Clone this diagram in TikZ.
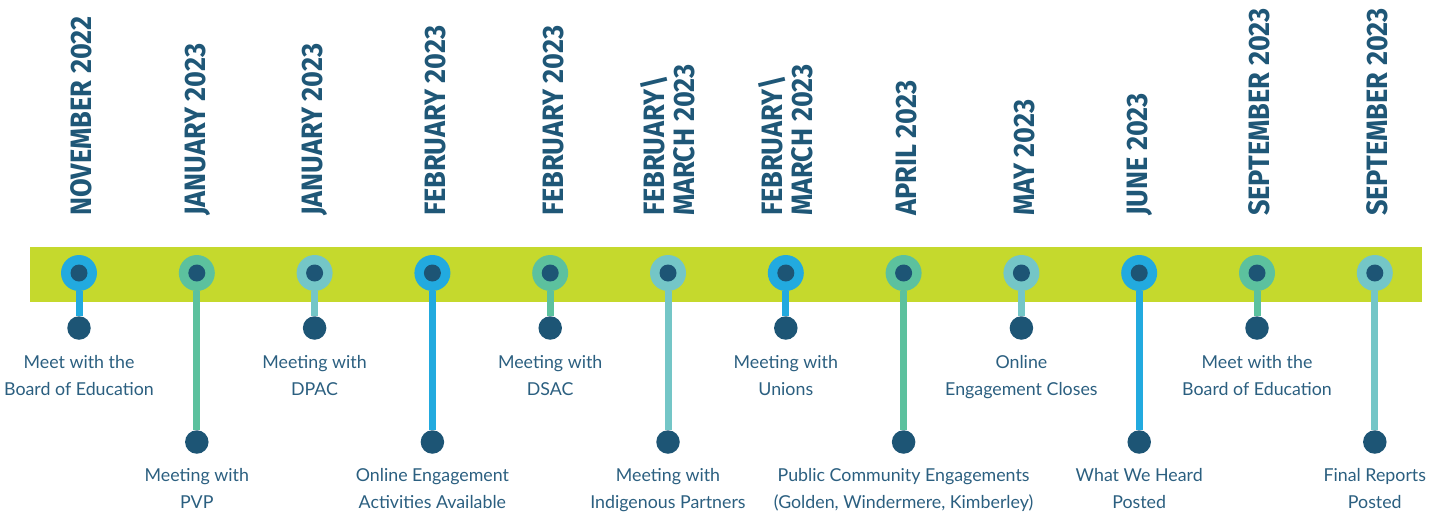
\documentclass[tikz,border=0pt]{standalone}
\usepackage{fontspec}
\setmainfont{Lato}
\newfontfamily\datefont[FakeStretch=0.92]{Fira Sans}
\definecolor{barlime}{HTML}{C5D92D}
\definecolor{tlblue}{HTML}{22AADF}
\definecolor{tlgreen}{HTML}{5CC19E}
\definecolor{tlteal}{HTML}{74C6C7}
\definecolor{dotdark}{HTML}{1D5575}
\definecolor{datetext}{HTML}{1F5777}
\definecolor{labeltext}{HTML}{2B5F80}
\tikzset{
  ring/.style={circle, minimum size=36pt, inner sep=0pt, fill=#1},
  enddot/.style={circle, minimum size=23.5pt, inner sep=0pt, fill=dotdark},
  stem/.style={line width=7pt, draw=#1},
  datelabel/.style={rotate=90, anchor=south west, inner sep=0pt, align=left,
    text=datetext, font=\datefont\bfseries\fontsize{29.5}{30}\selectfont},
  eventlabel/.style={anchor=north, inner sep=0pt, align=center,
    text=labeltext, font=\fontsize{17.8}{27}\selectfont}
}
\begin{document}
\begin{tikzpicture}[x=1pt, y=-1pt]
\useasboundingbox (0,0) rectangle (1444,512);
% timeline band
\fill[barlime] (30,247) rectangle (1422,302);
\foreach \i/\c/\low/\lines/\date/\lab in {
  1/tlblue/0/1/{NOVEMBER 2022}/{Meet with the\\Board of Education},
  2/tlgreen/1/1/{JANUARY 2023}/{Meeting with\\PVP},
  3/tlteal/0/1/{JANUARY 2023}/{Meeting with\\DPAC},
  4/tlblue/1/1/{FEBRUARY 2023}/{Online Engagement\\Activities Available},
  5/tlgreen/0/1/{FEBRUARY 2023}/{Meeting with\\DSAC},
  6/tlteal/1/2/{FEBRUARY\textbackslash\\MARCH 2023}/{Meeting with\\Indigenous Partners},
  7/tlblue/0/2/{FEBRUARY\textbackslash\\MARCH 2023}/{Meeting with\\Unions},
  8/tlgreen/1/1/{APRIL 2023}/{Public Community Engagements\\(Golden, Windermere, Kimberley)},
  9/tlteal/0/1/{MAY 2023}/{Online\\Engagement Closes},
  10/tlblue/1/1/{JUNE 2023}/{What We Heard\\Posted},
  11/tlgreen/0/1/{SEPTEMBER 2023}/{Meet with the\\Board of Education},
  12/tlteal/1/1/{SEPTEMBER 2023}/{Final Reports\\Posted}}
{
  \pgfmathsetmacro{\cx}{79+(\i-1)*117.8}
  \pgfmathsetmacro{\dy}{\low==1 ? 442 : 328}
  \pgfmathsetmacro{\ly}{\low==1 ? 468 : 355}
  \pgfmathsetmacro{\dx}{\lines==2 ? 27 : 13.5}
  \node[ring=\c] (r\i) at (\cx,273) {};
  \fill[dotdark] (r\i.center) circle (8.5pt);
  \node[enddot] (d\i) at (\cx,\dy) {};
  \draw[stem=\c] (r\i) -- (d\i);
  \node[datelabel] (t\i) at (\cx+\dx,216) {\date};
  \node[eventlabel] (e\i) at (\cx,\ly) {\lab};
}
\end{tikzpicture}
\end{document}
